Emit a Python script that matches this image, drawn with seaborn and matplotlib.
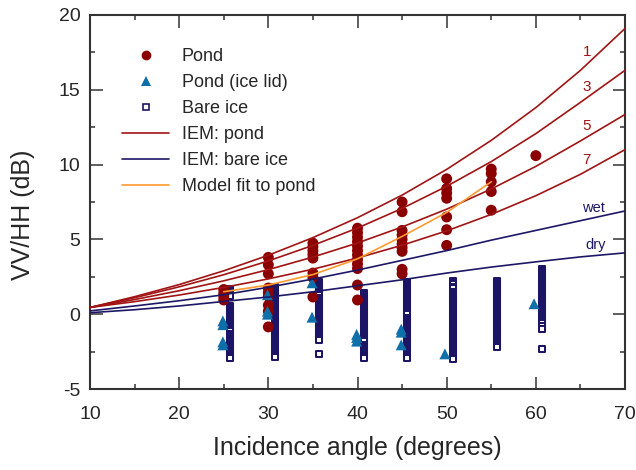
import matplotlib
matplotlib.use("Agg")
import matplotlib.pyplot as plt
from matplotlib.lines import Line2D
from matplotlib.ticker import MultipleLocator
import seaborn as sns

# ---------------- data ----------------
pond_angles = [25, 30, 35, 40, 45, 50, 55, 60]
pond_values = [
    [1.65, 1.4, 1.2, 0.95],
    [3.8, 3.3, 2.7, 1.75, 1.45, 1.2, 0.6, 0.2, -0.85],
    [4.75, 4.5, 4.25, 4.0, 3.75, 2.75, 2.45, 1.15],
    [5.75, 5.45, 5.15, 4.85, 4.55, 4.25, 3.95, 3.65, 3.35, 3.05, 1.95, 0.95],
    [7.5, 6.85, 5.6, 5.3, 5.0, 4.7, 4.45, 4.2, 3.0, 2.7],
    [9.05, 8.4, 8.1, 7.75, 6.5, 5.65, 4.6],
    [9.7, 9.4, 8.85, 8.2, 6.95],
    [10.6],
]

lid_angles = [24.9, 29.9, 34.9, 39.9, 44.9, 49.8, 59.8]
lid_values = [
    [-0.45, -0.7, -1.85, -2.05],
    [1.3, 0.2, 0.0],
    [2.1, -0.2],
    [-1.35, -1.55, -1.8],
    [-1.0, -1.2, -2.05],
    [-2.65],
    [0.7],
]

bare_angles = [25.75, 30.7, 35.7, 40.7, 45.6, 50.7, 55.65, 60.65]
bare_values = [
    [1.7, 1.58, 1.45, 1.3, 1.2, 0.55, 0.45, 0.35, 0.22, 0.1, 0.0, -0.12, -0.25, -0.35,
     -0.45, -0.58, -0.7, -0.82, -0.95, -1.05, -1.15, -1.3, -1.4, -1.5, -1.62, -1.75,
     -1.85, -1.95, -2.08, -2.2, -2.32, -2.45, -2.55, -2.65, -2.78, -2.9],
    [1.85, 1.72, 1.6, 1.5, 1.38, 1.25, 1.12, 1.0, 0.88, 0.75, 0.62, 0.5, 0.4, 0.28,
     0.15, 0.05, -0.08, -0.2, -0.32, -0.45, -0.55, -0.68, -0.8, -0.92, -1.05, -1.15,
     -1.28, -1.4, -1.5, -1.62, -1.75, -1.88, -2.0, -2.12, -2.25, -2.38, -2.5, -2.62,
     -2.75, -2.85],
    [2.15, 2.05, 1.92, 1.8, 1.68, 1.55, 1.42, 1.3, 1.05, 0.92, 0.8, 0.68, 0.55, 0.42,
     0.3, 0.18, 0.05, -0.08, -0.2, -0.32, -0.45, -0.58, -0.7, -0.82, -0.95, -1.08,
     -1.2, -1.32, -1.45, -1.58, -1.72, -2.65],
    [1.42, 1.3, 1.18, 1.05, 0.92, 0.8, 0.68, 0.55, 0.42, 0.3, 0.18, 0.05, -0.08, -0.2,
     -0.32, -0.45, -0.58, -0.7, -0.82, -0.95, -1.08, -1.2, -1.32, -1.45, -1.58, -1.7,
     -1.82, -2.05, -2.18, -2.3, -2.42, -2.55, -2.68, -2.8, -2.92],
    [2.15, 2.02, 1.9, 1.78, 1.65, 1.52, 1.4, 1.28, 1.15, 1.02, 0.9, 0.78, 0.65, 0.52,
     0.4, 0.28, 0.15, 0.02, -0.25, -0.38, -0.5, -0.62, -0.75, -0.88, -1.0, -1.12,
     -1.25, -1.38, -1.5, -1.62, -1.75, -1.88, -2.0, -2.12, -2.25, -2.38, -2.5, -2.62,
     -2.75, -2.88, -2.96],
    [2.25, 2.12, 2.0, 1.85, 1.72, 1.48, 1.35, 1.22, 1.1, 0.98, 0.85, 0.72, 0.6, 0.48,
     0.35, 0.22, 0.1, -0.02, -0.15, -0.28, -0.4, -0.52, -0.65, -0.78, -0.9, -1.02,
     -1.15, -1.28, -1.4, -1.52, -1.65, -1.78, -1.9, -2.02, -2.15, -2.28, -2.4, -2.52,
     -2.65, -2.78, -2.9, -3.02],
    [2.25, 2.12, 2.0, 1.88, 1.75, 1.62, 1.5, 1.38, 1.25, 1.12, 1.0, 0.88, 0.75, 0.62,
     0.5, 0.38, 0.25, 0.12, 0.0, -0.12, -0.25, -0.38, -0.5, -0.62, -0.75, -0.88, -1.0,
     -1.12, -1.25, -1.38, -1.5, -1.62, -1.75, -1.88, -2.0, -2.12, -2.22],
    [3.0, 2.88, 2.75, 2.62, 2.5, 2.38, 2.25, 2.12, 2.0, 1.88, 1.75, 1.62, 1.5, 1.38,
     1.25, 1.12, 1.0, 0.88, 0.75, 0.62, 0.5, 0.38, 0.25, 0.12, 0.0, -0.12, -0.25,
     -0.38, -0.5, -0.62, -0.8, -1.0, -2.3],
]

iem_angles = [10, 15, 20, 25, 30, 35, 40, 45, 50, 55, 60, 65, 70]
iem_pond_1 = [0.45, 1.17, 1.98, 2.90, 3.94, 5.12, 6.45, 7.96, 9.68, 11.62, 13.81, 16.30, 19.1]
iem_pond_3 = [0.45, 1.10, 1.83, 2.64, 3.56, 4.60, 5.76, 7.07, 8.55, 10.20, 12.07, 14.16, 16.3]
iem_pond_5 = [0.45, 0.98, 1.57, 2.23, 2.98, 3.82, 4.76, 5.83, 7.02, 8.37, 9.88, 11.58, 13.35]
iem_pond_7 = [0.45, 0.84, 1.28, 1.79, 2.36, 3.01, 3.76, 4.61, 5.57, 6.67, 7.92, 9.35, 11.0]
iem_bare_wet = [0.22, 0.55, 0.9, 1.3, 1.8, 2.35, 2.95, 3.6, 4.25, 4.95, 5.6, 6.25, 6.9]
iem_bare_dry = [0.1, 0.3, 0.55, 0.85, 1.15, 1.5, 1.9, 2.3, 2.75, 3.15, 3.5, 3.83, 4.1]

fit_angles = [25, 30, 35, 40, 45, 50, 55]
fit_values = [1.5, 1.95, 2.65, 3.7, 5.2, 6.8, 8.85]

curve_labels = ["1", "3", "5", "7", "wet", "dry"]

# ---------------- style ----------------
sns.set_style("ticks")
plt.rcParams["font.family"] = ["Liberation Sans", "DejaVu Sans"]
plt.rcParams["axes.unicode_minus"] = False

C_POND = "#8b0000"
C_LID = "#0f6fa8"
C_BARE = "#1c1464"
C_IEMP = "#a01414"
C_IEMB = "#1c1866"
C_FIT = "#ff9a30"
C_AX = "#333333"
C_TXT = "#262626"

fig = plt.figure(figsize=(6.36, 4.70), dpi=100)
ax = fig.add_axes([90 / 636, 81 / 470, 535 / 636, 374 / 470])

# bare ice squares
for a, vals in zip(bare_angles, bare_values):
    sns.scatterplot(x=[a] * len(vals), y=vals, marker="s", s=22, color="white",
                    edgecolor=C_BARE, linewidth=1.45, ax=ax, zorder=2, legend=False)
# pond circles
for a, vals in zip(pond_angles, pond_values):
    sns.scatterplot(x=[a] * len(vals), y=vals, marker="o", s=62, color=C_POND,
                    edgecolor="none", linewidth=0, ax=ax, zorder=3, legend=False)
# pond ice lid triangles
for a, vals in zip(lid_angles, lid_values):
    sns.scatterplot(x=[a] * len(vals), y=vals, marker="^", s=62, color=C_LID,
                    edgecolor="none", linewidth=0, ax=ax, zorder=4, legend=False)

lw = 1.2
for ys in [iem_pond_1, iem_pond_3, iem_pond_5, iem_pond_7]:
    sns.lineplot(x=iem_angles, y=ys, color=C_IEMP, linewidth=lw, ax=ax, zorder=5)
for ys in [iem_bare_wet, iem_bare_dry]:
    sns.lineplot(x=iem_angles, y=ys, color=C_IEMB, linewidth=lw, ax=ax, zorder=5)
sns.lineplot(x=fit_angles, y=fit_values, color=C_FIT, linewidth=lw, ax=ax, zorder=6)

# curve annotations
label_pos = [(65.7, 17.5), (65.7, 15.2), (65.7, 12.6), (65.7, 10.3), (66.5, 7.1), (66.7, 4.6)]
label_col = [C_IEMP] * 4 + [C_IEMB] * 2
label_size = [11, 11, 11, 11, 10.5, 10.5]
for t, (xx, yy), c, fs in zip(curve_labels, label_pos, label_col, label_size):
    ax.text(xx, yy, t, color=c, fontsize=fs, ha="center", va="center")

ax.set_xlim(10, 70)
ax.set_ylim(-5, 20)
ax.xaxis.set_major_locator(MultipleLocator(10))
ax.xaxis.set_minor_locator(MultipleLocator(5))
ax.yaxis.set_major_locator(MultipleLocator(5))
ax.yaxis.set_minor_locator(MultipleLocator(2.5))
ax.tick_params(which="both", direction="in", top=True, right=True, color=C_AX,
               width=1.1, labelcolor=C_TXT, labelsize=14)
ax.tick_params(which="major", length=9)
ax.tick_params(which="minor", length=3.6)
ax.tick_params(axis="x", which="major", pad=12)
ax.tick_params(axis="y", which="major", pad=7)
for sp in ax.spines.values():
    sp.set_color(C_AX)
    sp.set_linewidth(1.5)
    sp.set_visible(True)

ax.set_xlabel("Incidence angle (degrees)", fontsize=18, color=C_TXT)
ax.set_ylabel("VV/HH (dB)", fontsize=18, color=C_TXT)
ax.xaxis.set_label_coords(0.5, -(448 - 389) / 374)
ax.yaxis.set_label_coords((23 - 90) / 535, (389 - 215) / 374)
ax.xaxis.label.set_va("center")
ax.yaxis.label.set_va("center")

handles = [
    Line2D([], [], linestyle="none", marker="o", markersize=7, color=C_POND, markeredgewidth=0),
    Line2D([], [], linestyle="none", marker="^", markersize=7, color=C_LID, markeredgewidth=0),
    Line2D([], [], linestyle="none", marker="s", markersize=5, markerfacecolor="white",
           markeredgecolor=C_BARE, markeredgewidth=1.2),
    Line2D([], [], color=C_IEMP, linewidth=lw),
    Line2D([], [], color=C_IEMB, linewidth=lw),
    Line2D([], [], color=C_FIT, linewidth=lw),
]
labels = ["Pond", "Pond (ice lid)", "Bare ice", "IEM: pond", "IEM: bare ice", "Model fit to pond"]
ax.legend(handles, labels, loc="upper left", bbox_to_anchor=(0.06, 0.912), frameon=False,
          fontsize=13, handlelength=2.6, handletextpad=0.7, labelspacing=0.5,
          borderpad=0, borderaxespad=0, labelcolor=C_TXT)

fig.savefig("out.png", dpi=100)
